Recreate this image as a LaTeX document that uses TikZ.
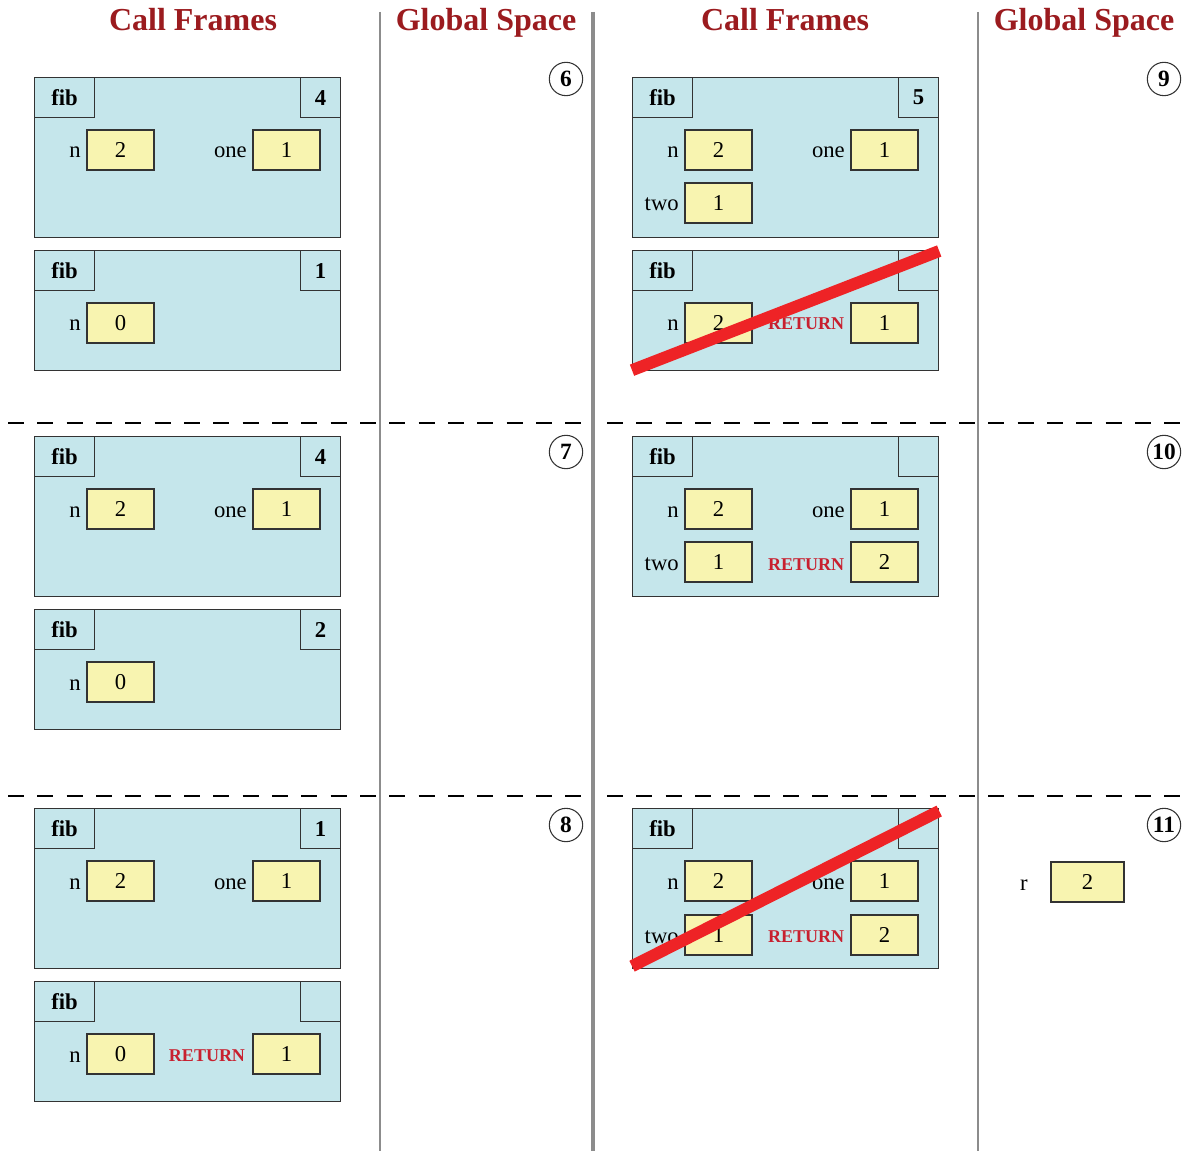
\documentclass[tikz,border=0pt]{standalone}
\usepackage{fontspec}
\setmainfont{Liberation Serif}
\definecolor{titlec}{HTML}{9B1B1F}
\definecolor{framec}{HTML}{C5E6EB}
\definecolor{valc}{HTML}{F8F4B0}
\definecolor{linec}{HTML}{333333}
\definecolor{retc}{HTML}{C8202F}
\definecolor{slashc}{HTML}{EE2326}
\definecolor{sepc}{HTML}{8C8C8C}
\tikzset{
  title/.style={text=titlec, font=\fontsize{24}{24}\selectfont\bfseries, inner sep=0pt, anchor=base},
  bigframe/.style={draw=linec, fill=framec, line width=0.9pt, minimum width=229.5pt, minimum height=120pt, inner sep=0pt, anchor=north west},
  smallframe/.style={bigframe, minimum height=90pt},
  namebox/.style={draw=linec, line width=0.9pt, minimum width=45pt, minimum height=30pt, inner sep=0pt, anchor=north west, font=\fontsize{17}{17}\selectfont\bfseries},
  numbox/.style={draw=linec, line width=0.9pt, minimum width=30pt, minimum height=30pt, inner sep=0pt, anchor=north east, font=\fontsize{17}{17}\selectfont\bfseries},
  val/.style={draw=linec, fill=valc, line width=0.9pt, minimum width=50.25pt, minimum height=30pt, inner sep=0pt, font=\fontsize{17}{17}\selectfont},
  lab/.style={anchor=base east, inner sep=0pt, font=\fontsize{17}{17}\selectfont},
  ret/.style={text=retc, inner sep=0pt, anchor=base, font=\fontsize{13.5}{13.5}\selectfont\bfseries},
  stepnum/.style={draw=linec, circle, line width=0.8pt, minimum size=25pt, inner sep=0pt, font=\fontsize{17.5}{17.5}\selectfont\bfseries},
  sep/.style={draw=sepc, line width=1pt},
  septhick/.style={draw=sepc, line width=3pt},
  rowsep/.style={draw=black, line width=1.5pt, dash pattern=on 12pt off 10pt},
  slash/.style={draw=slashc, line width=9pt},
}
\begin{document}
\begin{tikzpicture}[x=0.75pt,y=-0.75pt]
\useasboundingbox (0,0) rectangle (1191,1151);
% titles
\node[title] (t1) at (193,31) {Call Frames};
\node[title] (t2) at (486,31) {Global Space};
\node[title] (t3) at (785,31) {Call Frames};
\node[title] (t4) at (1084,31) {Global Space};
% separators
\coordinate (s1a) at (380,12); \coordinate (s1b) at (380,1151);
\coordinate (s2a) at (593,12); \coordinate (s2b) at (593,1151);
\coordinate (s3a) at (978,12); \coordinate (s3b) at (978,1151);
\draw[sep] (s1a) -- (s1b);
\draw[septhick] (s2a) -- (s2b);
\draw[sep] (s3a) -- (s3b);
\coordinate (d1a) at (8,423); \coordinate (d1b) at (583,423);
\coordinate (d1c) at (607,423); \coordinate (d1d) at (1180,423);
\coordinate (d2a) at (8,796); \coordinate (d2b) at (583,796);
\coordinate (d2c) at (607,796); \coordinate (d2d) at (1180,796);
\draw[rowsep] (d1a) -- (d1b);
\draw[rowsep] (d1c) -- (d1d);
\draw[rowsep] (d2a) -- (d2b);
\draw[rowsep] (d2c) -- (d2d);
% step numbers
\node[stepnum] (c6) at (566,79) {6};
\node[stepnum] (c7) at (566,452) {7};
\node[stepnum] (c8) at (566,825) {8};
\node[stepnum] (c9) at (1164,79) {9};
\node[stepnum] (c10) at (1164,452) {10};
\node[stepnum] (c11) at (1164,825) {11};

% ---------- step 6 ----------
\node[bigframe] (f6a) at (34,77) {};
\node[namebox] (f6an) at (f6a.north west) {fib};
\node[numbox] (f6al) at (f6a.north east) {4};
\node[val] (f6av1) at (120.5,150) {2};
\node[lab] (f6ak1) at (81,158) {n};
\node[val] (f6av2) at (286.5,150) {1};
\node[lab] (f6ak2) at (247,158) {one};
\node[smallframe] (f6b) at (34,250) {};
\node[namebox] (f6bn) at (f6b.north west) {fib};
\node[numbox] (f6bl) at (f6b.north east) {1};
\node[val] (f6bv1) at (120.5,323) {0};
\node[lab] (f6bk1) at (81,331) {n};

% ---------- step 7 ----------
\node[bigframe] (f7a) at (34,436) {};
\node[namebox] (f7an) at (f7a.north west) {fib};
\node[numbox] (f7al) at (f7a.north east) {4};
\node[val] (f7av1) at (120.5,509) {2};
\node[lab] (f7ak1) at (81,517) {n};
\node[val] (f7av2) at (286.5,509) {1};
\node[lab] (f7ak2) at (247,517) {one};
\node[smallframe] (f7b) at (34,609) {};
\node[namebox] (f7bn) at (f7b.north west) {fib};
\node[numbox] (f7bl) at (f7b.north east) {2};
\node[val] (f7bv1) at (120.5,682) {0};
\node[lab] (f7bk1) at (81,690) {n};

% ---------- step 8 ----------
\node[bigframe] (f8a) at (34,808) {};
\node[namebox] (f8an) at (f8a.north west) {fib};
\node[numbox] (f8al) at (f8a.north east) {1};
\node[val] (f8av1) at (120.5,881) {2};
\node[lab] (f8ak1) at (81,889) {n};
\node[val] (f8av2) at (286.5,881) {1};
\node[lab] (f8ak2) at (247,889) {one};
\node[smallframe] (f8b) at (34,981) {};
\node[namebox] (f8bn) at (f8b.north west) {fib};
\node[numbox] (f8bl) at (f8b.north east) {};
\node[val] (f8bv1) at (120.5,1054) {0};
\node[lab] (f8bk1) at (81,1062) {n};
\node[ret] (f8br) at (207,1061) {RETURN};
\node[val] (f8bv2) at (286.5,1054) {1};

% ---------- step 9 ----------
\node[bigframe] (f9a) at (632,77) {};
\node[namebox] (f9an) at (f9a.north west) {fib};
\node[numbox] (f9al) at (f9a.north east) {5};
\node[val] (f9av1) at (718.5,150) {2};
\node[lab] (f9ak1) at (679,158) {n};
\node[val] (f9av2) at (884.5,150) {1};
\node[lab] (f9ak2) at (845,158) {one};
\node[val] (f9av3) at (718.5,203) {1};
\node[lab] (f9ak3) at (679,211) {two};
\node[smallframe] (f9b) at (632,250) {};
\node[namebox] (f9bn) at (f9b.north west) {fib};
\node[numbox] (f9bl) at (f9b.north east) {};
\node[val] (f9bv1) at (718.5,323) {2};
\node[lab] (f9bk1) at (679,331) {n};
\node[ret] (f9br) at (806,330) {RETURN};
\node[val] (f9bv2) at (884.5,323) {1};
\draw[slash] ([shift={(0,-1)}]f9b.south west) -- ([shift={(0,1)}]f9b.north east);

% ---------- step 10 ----------
\node[bigframe] (f10a) at (632,436) {};
\node[namebox] (f10an) at (f10a.north west) {fib};
\node[numbox] (f10al) at (f10a.north east) {};
\node[val] (f10av1) at (718.5,509) {2};
\node[lab] (f10ak1) at (679,517) {n};
\node[val] (f10av2) at (884.5,509) {1};
\node[lab] (f10ak2) at (845,517) {one};
\node[val] (f10av3) at (718.5,562) {1};
\node[lab] (f10ak3) at (679,570) {two};
\node[ret] (f10r) at (806,570) {RETURN};
\node[val] (f10av4) at (884.5,562) {2};

% ---------- step 11 ----------
\node[bigframe] (f11a) at (632,808) {};
\node[namebox] (f11an) at (f11a.north west) {fib};
\node[numbox] (f11al) at (f11a.north east) {};
\node[val] (f11av1) at (718.5,881) {2};
\node[lab] (f11ak1) at (679,889) {n};
\node[val] (f11av2) at (884.5,881) {1};
\node[lab] (f11ak2) at (845,889) {one};
\node[val] (f11av3) at (718.5,935) {1};
\node[lab] (f11ak3) at (679,943) {two};
\node[ret] (f11r) at (806,942) {RETURN};
\node[val] (f11av4) at (884.5,935) {2};
\draw[slash] ([shift={(0,-3)}]f11a.south west) -- ([shift={(0,3)}]f11a.north east);
\node[val, minimum width=54.75pt] (gr) at (1087.5,882) {2};
\node[lab] (grk) at (1028,890) {r};
\end{tikzpicture}
\end{document}
